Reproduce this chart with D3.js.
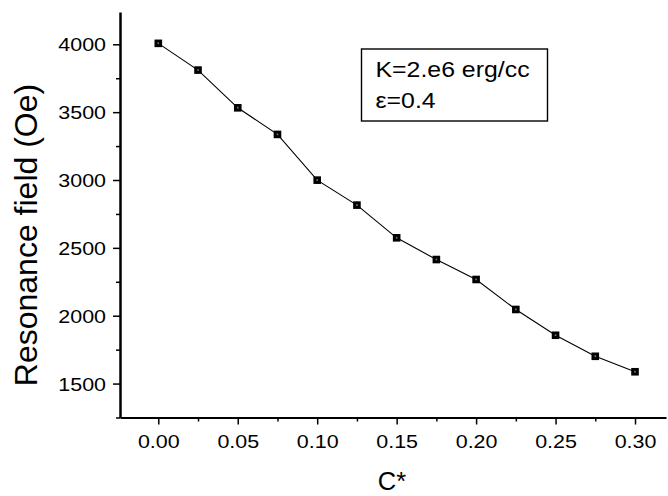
<!DOCTYPE html>
<html>
<head>
<meta charset="utf-8">
<script src="https://cdn.jsdelivr.net/npm/d3@7"></script>
<style>
  html, body { margin: 0; padding: 0; background: #fff; }
  svg { display: block; }
  text { font-family: Arial, "Liberation Sans", Helvetica, sans-serif; fill: #000; }
</style>
</head>
<body>
<script>
// ---- data ----
const cStar = [0.000, 0.025, 0.050, 0.075, 0.100, 0.125, 0.150, 0.175, 0.200, 0.225, 0.250, 0.275, 0.300];
const field = [4007, 3810, 3532, 3336, 2999, 2815, 2574, 2414, 2267, 2046, 1856, 1701, 1587];
const xTicks = [0.00, 0.05, 0.10, 0.15, 0.20, 0.25, 0.30];
const xMinorTicks = [0.025, 0.075, 0.125, 0.175, 0.225, 0.275, 0.325];
const yTicks = [1500, 2000, 2500, 3000, 3500, 4000];
const yMinorTicks = [1250, 1750, 2250, 2750, 3250, 3750];
const xTitle = "C*";
const yTitle = "Resonance field (Oe)";
const legendLines = ["K=2.e6 erg/cc", "ε=0.4"];

const W = 668, H = 496;
const svg = d3.select("body").append("svg").attr("width", W).attr("height", H);

const axisX0 = 120, axisX1 = 666, axisYBottom = 417.5, axisYTop = 12;
const x = d3.scaleLinear().domain([-0.0241, 0.3195]).range([axisX0, axisX1]);
const y = d3.scaleLinear().domain([1250, 4238]).range([axisYBottom, axisYTop]);

// minor ticks
const gxm = svg.append("g").attr("transform", `translate(0,${axisYBottom})`)
  .call(d3.axisBottom(x).tickValues(xMinorTicks.filter(v => x(v) <= axisX1)).tickSize(4).tickFormat(""));
gxm.select(".domain").remove();
gxm.selectAll("line").attr("stroke-width", 1.5);

const gym = svg.append("g").attr("transform", `translate(${axisX0},0)`)
  .call(d3.axisLeft(y).tickValues(yMinorTicks).tickSize(4).tickFormat(""));
gym.select(".domain").remove();
gym.selectAll("line").attr("stroke-width", 1.5);

// major x axis
const gx = svg.append("g").attr("transform", `translate(0,${axisYBottom})`)
  .call(d3.axisBottom(x).tickValues(xTicks).tickSize(7).tickSizeOuter(0).tickFormat(d3.format(".2f")));
gx.select(".domain").attr("stroke-width", 2.2);
gx.selectAll(".tick line").attr("stroke-width", 1.5);
gx.selectAll(".tick text")
  .attr("y", 30.5).attr("dy", 0).attr("x", 0)
  .attr("transform", "scale(1.16,1)")
  .style("font-size", "18.5px");

// major y axis
const gy = svg.append("g").attr("transform", `translate(${axisX0},0)`)
  .call(d3.axisLeft(y).tickValues(yTicks).tickSize(7).tickSizeOuter(0).tickFormat(d3.format("d")));
gy.select(".domain").attr("stroke-width", 2.5);
gy.selectAll(".tick line").attr("stroke-width", 1.5);
gy.selectAll(".tick text")
  .attr("x", 0).attr("dy", "0.36em")
  .attr("transform", "translate(-14,0) scale(1.16,1)")
  .style("font-size", "18.5px");

// axis titles
svg.append("text")
  .attr("x", 392).attr("y", 490)
  .attr("text-anchor", "middle")
  .style("font-size", "25.5px")
  .text(xTitle);

svg.append("text")
  .attr("transform", "translate(36.5,235) rotate(-90)")
  .attr("text-anchor", "middle")
  .style("font-size", "32px")
  .text(yTitle);

// line + markers
const pts = cStar.map((c, i) => [c, field[i]]);
svg.append("path")
  .datum(pts)
  .attr("fill", "none")
  .attr("stroke", "#000")
  .attr("stroke-width", 1.1)
  .attr("d", d3.line().x(d => x(d[0])).y(d => y(d[1])));

const m = svg.append("g").selectAll("g").data(pts).join("g")
  .attr("transform", d => `translate(${x(d[0])},${y(d[1])})`);
m.append("rect").attr("x", -3.8).attr("y", -3.8).attr("width", 7.6).attr("height", 7.6).attr("fill", "#000");
m.append("rect").attr("x", -0.8).attr("y", -1).attr("width", 1.6).attr("height", 1.8).attr("fill", "#fff").attr("opacity", 0.45);

// legend box
const lg = svg.append("g");
lg.append("rect")
  .attr("x", 361.5).attr("y", 49).attr("width", 186).attr("height", 72)
  .attr("fill", "#fff").attr("stroke", "#000").attr("stroke-width", 1.4);
lg.append("text")
  .attr("transform", "translate(375.5,76.7) scale(1.13,1)")
  .style("font-size", "22px")
  .text(legendLines[0]);
lg.append("text")
  .attr("transform", "translate(375.5,108.3) scale(1.13,1)")
  .style("font-size", "22px")
  .text(legendLines[1]);
</script>
</body>
</html>
